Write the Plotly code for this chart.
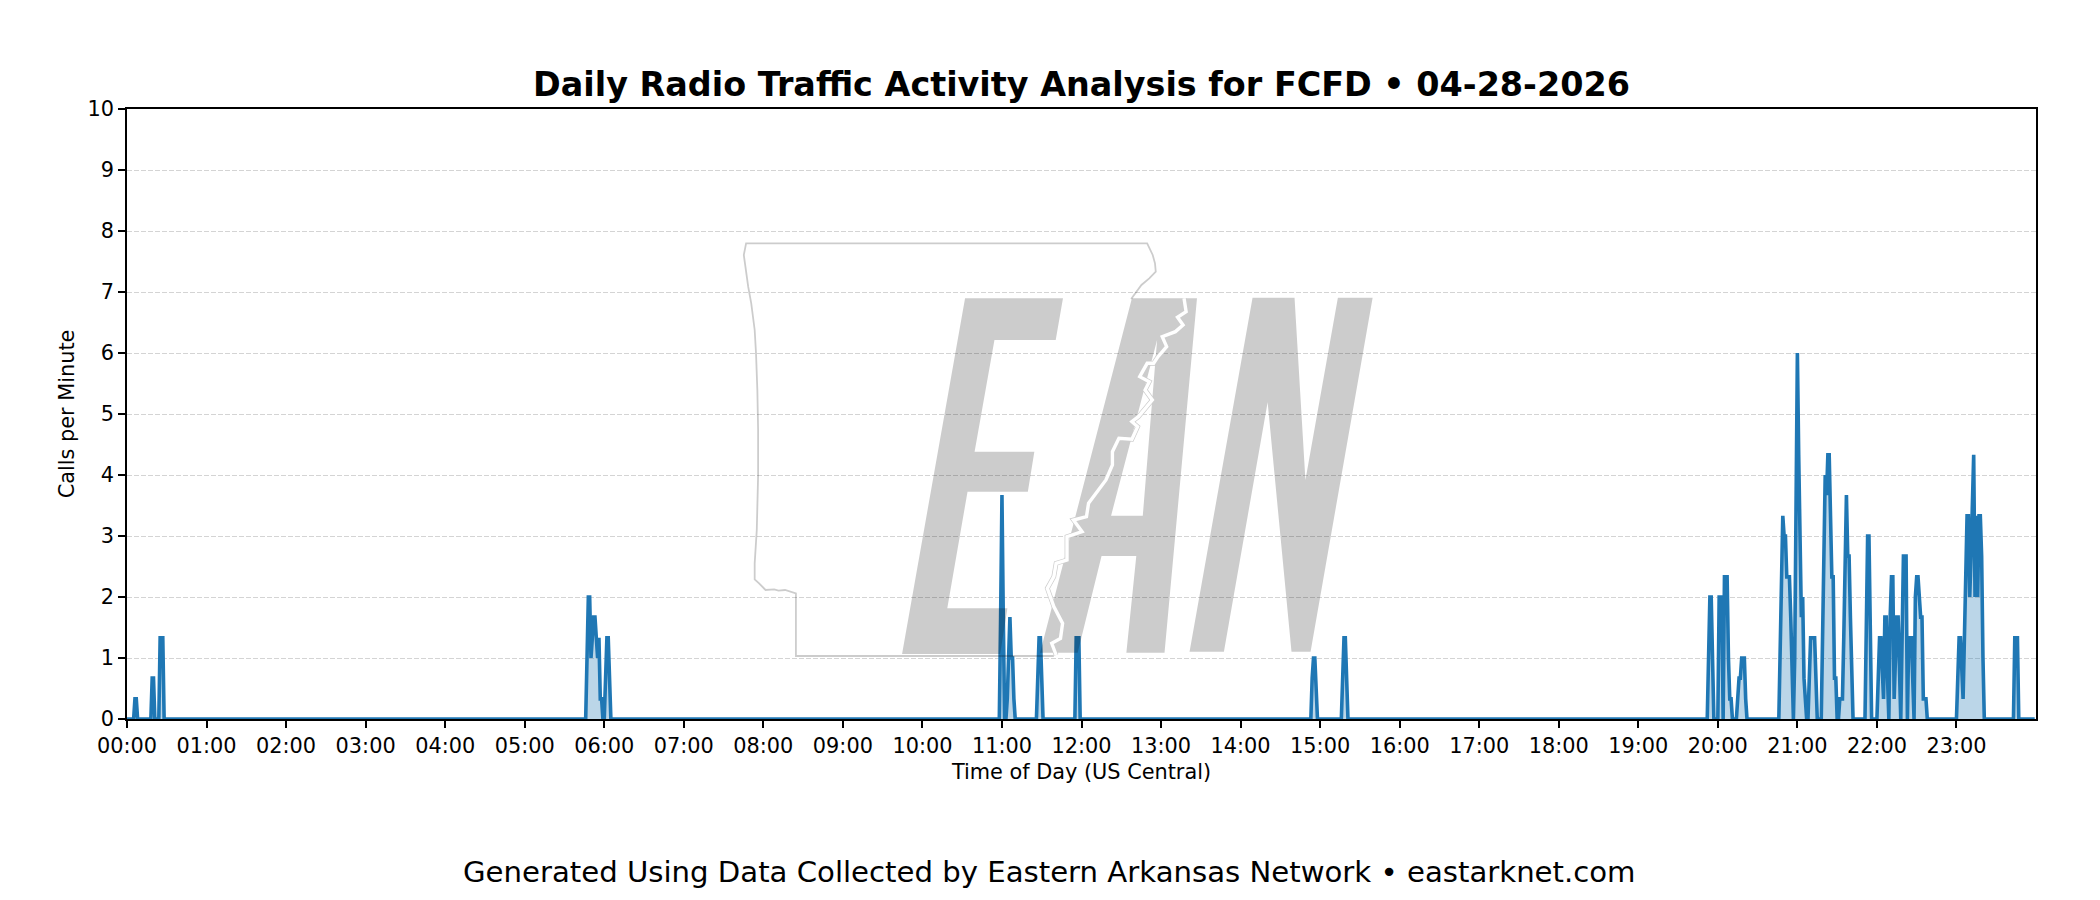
import plotly.graph_objects as go

# minute of day (US Central) and calls per minute, one row per burst of traffic
minutes = [0,
           5, 6, 7, 8,
           18, 19, 20, 21, 24, 25, 26, 27, 28,
           346, 347, 348, 349, 350, 351, 352, 353, 354, 355, 356, 357, 358, 359,
           360, 361, 362, 363, 364, 365,
           657, 658, 659, 660, 661, 662, 663, 664, 665, 666, 667, 668, 669, 670,
           686, 687, 688, 689, 690, 691,
           714, 715, 716, 717, 718, 719,
           893, 894, 895, 896, 897, 898,
           916, 917, 918, 919, 920, 921,
           1192, 1193, 1194, 1195, 1196, 1197,
           1200, 1201, 1202, 1203, 1204, 1205, 1206, 1207, 1208, 1209, 1210, 1211,
           1214, 1215, 1216, 1217, 1218, 1219, 1220, 1221, 1222,
           1246, 1247, 1248, 1249, 1250, 1251, 1252, 1253, 1254, 1255, 1256, 1257,
           1258, 1259, 1260, 1261, 1262, 1263, 1264, 1265, 1266, 1267,
           1268, 1269, 1270, 1271, 1272, 1273, 1274, 1275,
           1278, 1279, 1280, 1281, 1282, 1283, 1284, 1285, 1286, 1287, 1288, 1289, 1290, 1291,
           1292, 1293, 1294, 1295, 1296, 1297, 1298, 1299, 1300, 1301, 1302,
           1311, 1312, 1313, 1314, 1315, 1316,
           1320, 1321, 1322, 1323, 1324, 1325, 1326, 1327, 1328, 1329,
           1330, 1331, 1332, 1333, 1334, 1335, 1336, 1337, 1338,
           1339, 1340, 1341, 1342, 1343, 1344, 1345, 1346, 1347, 1348,
           1349, 1350, 1351, 1352, 1353, 1354, 1355, 1356, 1357, 1358,
           1380, 1381, 1382, 1383, 1384, 1385, 1386, 1387, 1388, 1389, 1390, 1391, 1392,
           1393, 1394, 1395, 1396, 1397, 1398, 1399, 1400, 1401,
           1423, 1424, 1425, 1426, 1427,
           1439]
calls_per_min = [0,
                 0, .33, .33, 0,
                 0, .67, .67, 0, 0, 1.33, 1.33, 1.33, 0,
                 0, 1, 2, 2, 1, 1.33, 1.67, 1.67, 1.33, 1, 1.33, .33, .33, 0,
                 0, .67, 1.33, 1.33, .67, 0,
                 0, 0, 1.67, 3.67, 1.67, 0, 0, .33, 1, 1.67, 1, 1, .33, 0,
                 0, .67, 1.33, 1.33, .67, 0,
                 0, 0, 1.33, 1.33, 1.33, 0,
                 0, .67, 1, 1, .33, 0,
                 0, .67, 1.33, 1.33, .67, 0,
                 0, 1, 2, 2, 1, 0,
                 0, 2, 2, 2, 0, 2.33, 2.33, 2.33, 1, .33, .33, 0,
                 0, .33, .67, .67, 1, 1, 1, .33, 0,
                 0, 1.33, 2.33, 3.33, 3, 3, 2.33, 2.33, 2.33, 1.67, 1, 0,
                 1, 3.33, 6, 4.33, 3, 1.67, 2, .67, .33, 0,
                 0, .67, 1.33, 1.33, 1.33, 1.33, .67, 0,
                 0, 1.33, 2.67, 4, 3.67, 4.33, 4.33, 3.33, 2.33, 2.33, .67, .67, 0, 0,
                 .33, .33, .33, 1.33, 2.67, 3.67, 2.67, 2.67, 1.67, .67, 0,
                 0, 1.33, 3, 3, 1.33, 0,
                 0, 1, 1.33, 1.33, .67, .33, 1.67, 1.67, .67, 0,
                 1.67, 2.33, 2.33, .33, 1, 1.67, 1.67, .67, 0,
                 1.33, 2.67, 2.67, 2.67, 0, 1.33, 1.33, 1.33, .67, 0,
                 2, 2.33, 2.33, 2, 1.67, 1.67, .33, .33, .33, 0,
                 0, .67, 1.33, 1.33, .67, .33, 1.33, 2.67, 3.33, 3.33, 2, 2.67, 3.67,
                 4.33, 2, 3.33, 2, 3.33, 3.33, 2.67, 1, 0,
                 0, 1.33, 1.33, 1.33, 0,
                 0]

hour_ticks = [h * 60 for h in range(24)]
hour_labels = ["%02d:00" % h for h in range(24)]
y_ticks = list(range(11))

title_text = "Daily Radio Traffic Activity Analysis for FCFD \u2022 04-28-2026"
footer_text = "Generated Using Data Collected by Eastern Arkansas Network \u2022 eastarknet.com"

# watermark outlines, measured on a crop that starts at (720, 230)
# (crop scale is 2.306 across, 3 down)
letter_e = [(565, 205), (791, 205), (774, 330), (633, 330), (587, 665), (725, 665), (710, 785),
            (571, 785), (524, 1135), (663, 1135), (646, 1272), (420, 1272)]
letter_a = [(950, 205), (1100, 205), (1025, 1268), (937, 1268), (960, 978), (880, 978),
            (825, 1268), (738, 1268)]
letter_a_hole = [(1008, 330), (975, 857), (902, 857)]
letter_n = [(1228, 203), (1325, 203), (1350, 750), (1425, 203), (1505, 203), (1362, 1265),
            (1318, 1265), (1263, 517), (1162, 1265), (1083, 1265)]
state_border = [(948, 207), (972, 165), (990, 145), (1005, 125), (1003, 100), (998, 75), (985, 40),
                (60, 40), (55, 75), (65, 170), (72, 220), (80, 300), (83, 370), (86, 480), (88, 600),
                (88, 736), (85, 900), (80, 1000), (80, 1048), (90, 1060), (105, 1080), (125, 1078),
                (135, 1082), (150, 1080), (175, 1090), (175, 1278), (770, 1278)]
river = [(1070, 205), (1075, 245), (1055, 262), (1068, 285), (1050, 305), (1020, 320), (1030, 350),
         (1010, 380), (1000, 400), (985, 400), (968, 440), (990, 455), (980, 480), (997, 510),
         (965, 560), (950, 575), (963, 590), (950, 628), (920, 625), (905, 665), (905, 705),
         (890, 750), (850, 820), (845, 860), (815, 870), (835, 905), (800, 920), (800, 990),
         (775, 1000), (770, 1040), (755, 1075), (770, 1130), (790, 1180), (785, 1225),
         (765, 1240), (775, 1275)]

# plotly draws the axis lines just outside these edges
LEFT, RIGHT, TOP, BOTTOM = 127, 2036, 109, 719


def svg_path(points, close=True):
    # crop coordinates -> paper coordinates of the plot area
    parts = []
    for i, (cx, cy) in enumerate(points):
        px = 720 + cx / 2.306
        py = 230 + cy / 3
        parts.append("%s%.4f,%.4f" % ("M" if i == 0 else "L",
                                      (px - LEFT) / (RIGHT - LEFT),
                                      (BOTTOM - py) / (BOTTOM - TOP)))
    return " ".join(parts) + (" Z" if close else "")


shade = "rgba(0,0,0,0.2)"
mark_shapes = [
    dict(type="path", xref="paper", yref="paper", layer="above", line_width=0, fillcolor=shade,
         path=svg_path(letter_e)),
    dict(type="path", xref="paper", yref="paper", layer="above", line_width=0, fillcolor=shade,
         path=svg_path(letter_a) + " " + svg_path(letter_a_hole)),
    dict(type="path", xref="paper", yref="paper", layer="above", line_width=0, fillcolor=shade,
         path=svg_path(letter_n)),
    dict(type="path", xref="paper", yref="paper", layer="above", line=dict(color=shade, width=1.8),
         path=svg_path(state_border, close=False)),
    dict(type="path", xref="paper", yref="paper", layer="above", line=dict(color="#cccccc", width=4.8),
         path=svg_path(river, close=False)),
    dict(type="path", xref="paper", yref="paper", layer="above", line=dict(color="white", width=3.4),
         path=svg_path(river, close=False)),
]

fig = go.Figure()
fig.add_trace(go.Scatter(
    x=minutes, y=calls_per_min, mode="lines",
    line=dict(color="#1f77b4", width=3.6),
    fill="tozeroy", fillcolor="rgba(31,119,180,0.3)",
    showlegend=False,
))

font_name = "DejaVu Sans"
fig.update_layout(
    width=2100, height=900,
    margin=dict(l=LEFT, r=2100 - RIGHT, t=TOP, b=900 - BOTTOM),
    paper_bgcolor="white", plot_bgcolor="white",
    font=dict(family=font_name, color="black", size=20.83),
    title=dict(text="<b>%s</b>" % title_text, font=dict(size=33.4, family=font_name, color="black"),
               xref="paper", x=0.5, xanchor="center", yref="container", y=1 - 84 / 900, yanchor="middle"),
    shapes=mark_shapes,
    annotations=[dict(text=footer_text, xref="paper", yref="paper", x=0.5, xshift=-32,
                      y=(BOTTOM - 872) / (BOTTOM - TOP), yanchor="middle", showarrow=False,
                      font=dict(size=29.17, family=font_name, color="black"))],
)
fig.update_xaxes(
    range=[0, 1440], tickvals=hour_ticks, ticktext=hour_labels, tickangle=0,
    showgrid=False, zeroline=False, showline=True, mirror=True, linecolor="black", linewidth=1.7,
    ticks="outside", ticklen=7, tickwidth=1.7, tickcolor="black", tickfont=dict(size=20.83),
    title=dict(text="Time of Day (US Central)", font=dict(size=20.83), standoff=8),
)
fig.update_yaxes(
    range=[0, 10], tickvals=y_ticks,
    showgrid=True, gridcolor="#d4d4d4", gridwidth=0.9, griddash="5px,2px",
    zeroline=False, showline=True, mirror=True, linecolor="black", linewidth=1.7,
    ticks="outside", ticklen=7, tickwidth=1.7, tickcolor="black", tickfont=dict(size=20.83),
    title=dict(text="Calls per Minute", font=dict(size=20.83), standoff=7),
)

fig.write_html("out.html", config=dict(displayModeBar=False),
               post_script="document.body.style.margin='0';")
